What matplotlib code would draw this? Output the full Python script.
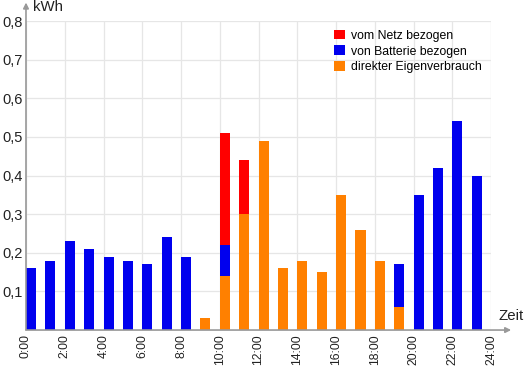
import numpy as np
import matplotlib.pyplot as plt

plt.rcParams['font.family'] = ['Liberation Sans', 'DejaVu Sans']

# Stundenwerte in kWh
hours = np.arange(24)
eigen = [0, 0, 0, 0, 0, 0, 0, 0, 0, 0.03, 0.14, 0.30, 0.49, 0.16, 0.18, 0.15,
         0.35, 0.26, 0.18, 0.06, 0, 0, 0, 0]
batterie = [0.16, 0.18, 0.23, 0.21, 0.19, 0.18, 0.17, 0.24, 0.19, 0, 0.08, 0, 0, 0, 0, 0,
            0, 0, 0, 0.11, 0.35, 0.42, 0.54, 0.40]
netz = [0, 0, 0, 0, 0, 0, 0, 0, 0, 0, 0.29, 0.14, 0, 0, 0, 0,
        0, 0, 0, 0, 0, 0, 0, 0]
xticks = np.arange(0, 25, 2)
xlabels = ["{}:00".format(h) for h in xticks]
yticks = [0.1, 0.2, 0.3, 0.4, 0.5, 0.6, 0.7, 0.8]
ylabels = ["0,{}".format(i) for i in range(1, 9)]

fig = plt.figure(figsize=(5.25, 3.7), dpi=100)
ax = fig.add_axes([0.0495, 0.108, 0.886, 0.835])

w = 0.52
ax.bar(hours, eigen, width=w, align='edge', color='#ff8000', label='direkter Eigenverbrauch', zorder=3)
ax.bar(hours, batterie, width=w, align='edge', bottom=eigen, color='#0000ee', label='von Batterie bezogen', zorder=3)
bot = np.array(eigen) + np.array(batterie)
ax.bar(hours, netz, width=w, align='edge', bottom=bot, color='#ff0000', label='vom Netz bezogen', zorder=3)

ax.set_xlim(0, 24)
ax.set_ylim(0, 0.8)
ax.set_xticks(xticks)
ax.set_xticklabels(xlabels, rotation=90, fontsize=8.7, color='#222222')
ax.set_yticks(yticks)
ax.set_yticklabels(ylabels, fontsize=10.5, color='#222222')
ax.tick_params(length=0, pad=3)
ax.tick_params(axis='y', pad=2)
ax.grid(True, color='#e6e6e6', linewidth=0.9, zorder=0)
for s in ax.spines.values():
    s.set_visible(False)

# Achsen mit Pfeilen
ax.annotate('', xy=(0, 1.06), xytext=(0, 0), xycoords='axes fraction',
            arrowprops=dict(arrowstyle='-|>', color='#999999', lw=1.2, mutation_scale=8,
                            shrinkA=0, shrinkB=0), annotation_clip=False)
ax.annotate('', xy=(1.043, 0), xytext=(0, 0), xycoords='axes fraction',
            arrowprops=dict(arrowstyle='-|>', color='#999999', lw=1.2, mutation_scale=8,
                            shrinkA=0, shrinkB=0), annotation_clip=False)
ax.text(0.016, 1.045, 'kWh', transform=ax.transAxes, fontsize=10.8, va='center', color='#222222')
ax.text(1.015, 0.044, 'Zeit', transform=ax.transAxes, fontsize=10.8, ha='left', va='center', color='#222222')

h, l = ax.get_legend_handles_labels()
ax.legend(h[::-1], l[::-1], loc='upper right', bbox_to_anchor=(0.998, 1.0), frameon=False,
          fontsize=8.8, handlelength=0.85, handleheight=0.85, handletextpad=0.5, labelspacing=0.3,
          borderaxespad=0.3)

fig.savefig('out.png', dpi=100)
